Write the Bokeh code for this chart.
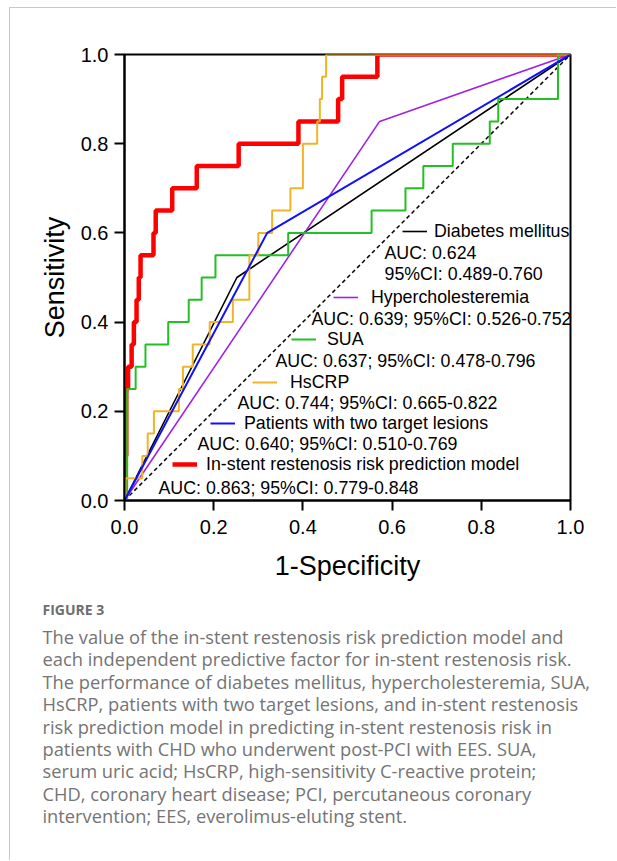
from bokeh.plotting import figure
from bokeh.layouts import column
from bokeh.models import (Range1d, FixedTicker, Label, Legend, LegendItem,
                          NumeralTickFormatter)
from bokeh.embed import file_html
from bokeh.resources import INLINE

# ---------------- data ----------------
diag = [0.0, 1.0]

dm_fpr = [0.0, 0.252, 1.0]          # Diabetes mellitus
dm_tpr = [0.0, 0.50, 1.0]

hc_fpr = [0.0, 0.572, 1.0]          # Hypercholesteremia
hc_tpr = [0.0, 0.85, 1.0]

tl_fpr = [0.0, 0.32, 1.0]           # Patients with two target lesions
tl_tpr = [0.0, 0.60, 1.0]

sua_fpr = [0, 0.006, 0.006, 0.025, 0.025, 0.047, 0.047, 0.098, 0.098, 0.144, 0.144,
           0.173, 0.173, 0.204, 0.204, 0.367, 0.367, 0.554, 0.554, 0.63, 0.63, 0.67,
           0.67, 0.736, 0.736, 0.819, 0.819, 0.838, 0.838, 0.972, 0.972, 1.0]
sua_tpr = [0, 0, 0.25, 0.25, 0.30, 0.30, 0.35, 0.35, 0.40, 0.40, 0.45, 0.45, 0.50,
           0.50, 0.55, 0.55, 0.60, 0.60, 0.65, 0.65, 0.70, 0.70, 0.75, 0.75, 0.80,
           0.80, 0.85, 0.85, 0.90, 0.90, 1.0, 1.0]

crp_fpr = [0, 0.002, 0.002, 0.04, 0.04, 0.052, 0.052, 0.066, 0.066, 0.122, 0.122,
           0.131, 0.131, 0.153, 0.153, 0.191, 0.191, 0.243, 0.243, 0.28, 0.28, 0.30,
           0.30, 0.331, 0.331, 0.372, 0.372, 0.40, 0.40, 0.432, 0.432, 0.438, 0.438,
           0.443, 0.443, 0.452, 0.452, 1.0]
crp_tpr = [0, 0, 0.05, 0.05, 0.10, 0.10, 0.15, 0.15, 0.20, 0.20, 0.25, 0.25, 0.30,
           0.30, 0.35, 0.35, 0.40, 0.40, 0.45, 0.45, 0.55, 0.55, 0.60, 0.60, 0.65,
           0.65, 0.70, 0.70, 0.80, 0.80, 0.85, 0.85, 0.90, 0.90, 0.95, 0.95, 1.0, 1.0]

mod_fpr = [0, 0, 0.004, 0.004, 0.008, 0.008, 0.016, 0.016, 0.021, 0.021, 0.027, 0.027,
           0.032, 0.032, 0.036, 0.036, 0.065, 0.065, 0.07, 0.07, 0.107, 0.107, 0.162,
           0.162, 0.256, 0.256, 0.39, 0.39, 0.479, 0.479, 0.488, 0.488, 0.567, 0.567, 1.0]
mod_tpr = [0, 0.10, 0.10, 0.25, 0.25, 0.30, 0.30, 0.35, 0.35, 0.40, 0.40, 0.45, 0.45,
           0.50, 0.50, 0.55, 0.55, 0.60, 0.60, 0.65, 0.65, 0.70, 0.70, 0.75, 0.75,
           0.80, 0.80, 0.85, 0.85, 0.90, 0.90, 0.95, 0.95, 1.0, 1.0]

ticks = [0.0, 0.2, 0.4, 0.6, 0.8, 1.0]

names = ["Diabetes mellitus", "Hypercholesteremia", "SUA", "HsCRP",
         "Patients with two target lesions", "In-stent restenosis risk prediction model"]
auc_texts = ["AUC: 0.624", "AUC: 0.639; 95%CI: 0.526-0.752", "AUC: 0.637; 95%CI: 0.478-0.796",
             "AUC: 0.744; 95%CI: 0.665-0.822", "AUC: 0.640; 95%CI: 0.510-0.769",
             "AUC: 0.863; 95%CI: 0.779-0.848"]
ci_dm = "95%CI: 0.489-0.760"

caption_title = "FIGURE 3"
caption_lines = [
    "The value of the in-stent restenosis risk prediction model and",
    "each independent predictive factor for in-stent restenosis risk.",
    "The performance of diabetes mellitus, hypercholesteremia, SUA,",
    "HsCRP, patients with two target lesions, and in-stent restenosis",
    "risk prediction model in predicting in-stent restenosis risk in",
    "patients with CHD who underwent post-PCI with EES. SUA,",
    "serum uric acid; HsCRP, high-sensitivity C-reactive protein;",
    "CHD, coronary heart disease; PCI, percutaneous coronary",
    "intervention; EES, everolimus-eluting stent.",
]

# ---------------- layout constants (page pixels) ----------------
OX, OY = 10, 8             # page position of the content (inside the grey border)
FL, FT, FS = 124, 54, 446  # frame left, top, size on the page
W = 606
H1 = 582                   # main figure height (page y 8 .. 590)
H2 = 270                   # caption figure height (page y 590 .. 860)
FONT = "Liberation Sans"
LEG_FS = "17.8px"

p = figure(width=W, height=H1, output_backend="svg", toolbar_location=None,
           x_range=Range1d(0, 1), y_range=Range1d(0, 1),
           min_border_left=FL - OX, min_border_top=FT - OY,
           min_border_right=W - (FL - OX) - FS, min_border_bottom=H1 - (FT - OY) - FS)
p.frame_align = False
p.grid.visible = False
p.outline_line_color = "black"
p.outline_line_width = 2
p.background_fill_color = "white"
p.border_fill_color = "white"

for ax in (p.xaxis[0], p.yaxis[0]):
    ax.ticker = FixedTicker(ticks=ticks)
    ax.formatter = NumeralTickFormatter(format="0.0")
    ax.axis_line_width = 2
    ax.major_tick_line_width = 2
    ax.major_tick_in = 0
    ax.major_tick_out = 10
    ax.minor_tick_line_color = None
    ax.major_label_text_font = FONT
    ax.major_label_text_font_size = "20px"
    ax.major_label_text_color = "black"
    ax.axis_label_text_font = FONT
    ax.axis_label_text_font_size = "27px"
    ax.axis_label_text_font_style = "normal"
    ax.axis_label_text_color = "black"
p.xaxis.axis_label = "1-Specificity"
p.yaxis.axis_label = "Sensitivity"
p.xaxis.major_label_standoff = 9
p.yaxis.major_label_standoff = 6
p.xaxis.axis_label_standoff = 14
p.yaxis.axis_label_standoff = 8

# ---------------- curves ----------------
p.line(diag, diag, line_color="black", line_width=1.5, line_dash="4 3")
r_mod = p.line(mod_fpr, mod_tpr, line_color="#ff0000", line_width=4.5)
r_dm = p.line(dm_fpr, dm_tpr, line_color="black", line_width=1.6)
r_hc = p.line(hc_fpr, hc_tpr, line_color="#a020e8", line_width=1.6)
r_sua = p.line(sua_fpr, sua_tpr, line_color="#22c022", line_width=2)
r_crp = p.line(crp_fpr, crp_tpr, line_color="#f0b428", line_width=2)
r_tl = p.line(tl_fpr, tl_tpr, line_color="#1010ff", line_width=2)

renderers = [r_dm, r_hc, r_sua, r_crp, r_tl, r_mod]

# legend entries: (swatch left, centre y, label standoff) in page px
leg_pos = [(402, 231, 7), (333, 297, 13), (291, 339, 11), (252, 382, 13),
           (210, 423, 9), (172, 464, 9)]
auc_pos = [(384, 252), (311, 318), (275, 360), (237, 402), (197, 443), (158, 487)]

for r, name, (lx, ly, so) in zip(renderers, names, leg_pos):
    leg = Legend(items=[LegendItem(label=name, renderers=[r])],
                 location=(lx - FL, (FT + FS) - ly - 11),
                 padding=0, margin=0, spacing=0, glyph_width=25, glyph_height=22,
                 label_height=22, label_standoff=so, border_line_alpha=0,
                 background_fill_alpha=0, label_text_font=FONT,
                 label_text_font_size=LEG_FS, label_text_color="black")
    p.add_layout(leg)

def screen_label(text, px, py, **kw):
    p.add_layout(Label(x=px - FL, y=(FT + FS) - py, x_units="screen", y_units="screen",
                       text=text, text_baseline="middle", **kw))

for t, (ax_, ay_) in zip(auc_texts, auc_pos):
    screen_label(t, ax_, ay_, text_font=FONT, text_font_size=LEG_FS, text_color="black")
screen_label(ci_dm, 384, 273, text_font=FONT, text_font_size=LEG_FS, text_color="black")

# ---------------- caption figure ----------------
CY0 = OY + H1   # page y of caption figure top
cap = figure(width=W, height=H2, output_backend="svg", toolbar_location=None,
             x_range=Range1d(0, W), y_range=Range1d(0, H2),
             x_axis_location=None, y_axis_location=None,
             min_border=0, min_border_left=0, min_border_right=0,
             min_border_top=0, min_border_bottom=0)
cap.frame_align = False
cap.grid.visible = False
cap.outline_line_color = None
cap.border_fill_color = "white"
cap.background_fill_color = "white"

def cap_label(text, px, py, **kw):
    cap.add_layout(Label(x=px - OX, y=H2 - (py - CY0), text=text,
                         text_baseline="middle", **kw))

cap_label(caption_title, 42, 609, text_font="Open Sans", text_font_size="14px",
          text_font_style="bold", text_color="#6e6e6e")
for i, line in enumerate(caption_lines):
    cap_label(line, 42, 636 + i * 22.4, text_font="Open Sans", text_font_size="18.3px",
              text_color="#747474")

layout = column(p, cap, spacing=0,
                styles={"margin-left": "9px", "margin-top": "7px",
                        "border-left": "1px solid #c9c9c9",
                        "border-top": "1px solid #c9c9c9"})

open("out.html", "w").write(file_html(layout, INLINE))
